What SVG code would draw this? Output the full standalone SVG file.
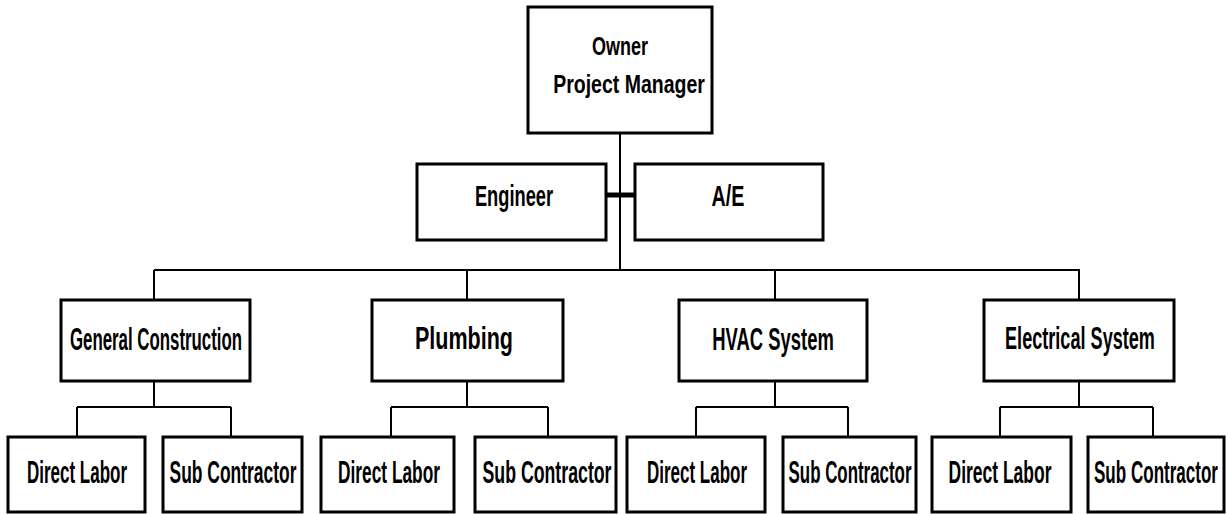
<svg xmlns="http://www.w3.org/2000/svg" width="1226" height="514" viewBox="0 0 1226 514">
<style>
.box{fill:#fff;stroke:#000;stroke-width:3}
.ln{fill:none;stroke:#000;stroke-width:2}
.t{font-family:"Liberation Sans",Arial,sans-serif;font-weight:bold;fill:#000;text-anchor:middle}
.l1{font-size:25px}
.l2{font-size:29px}
.l3{font-size:31px}
</style>
<rect width="1226" height="514" fill="#fff"/>
<g id="connectors">
<path class="ln" d="M620 133V270M154 270H1080M154 270V300M467 270V300M775 270V300M1079 270V300"/>
<path class="ln" d="M154 381V407M77 407H231M77 407V437M231 407V437"/>
<path class="ln" d="M467 381V407M391 407H548M391 407V437M548 407V437"/>
<path class="ln" d="M775 381V407M696 407H848M696 407V437M848 407V437"/>
<path class="ln" d="M1079 381V407M1000 407H1153M1000 407V437M1153 407V437"/>
<path d="M606 195H635" stroke="#000" stroke-width="5"/>
</g>
<g id="owner"><rect class="box" x="528" y="7" width="184" height="126"/>
<text class="t l1" transform="translate(620,55) scale(0.72,1)">Owner</text>
<text class="t l1" transform="translate(629,93) scale(0.78,1)">Project Manager</text></g>
<g id="engineer"><rect class="box" x="417" y="164" width="189" height="76"/>
<text class="t l2" transform="translate(514,206) scale(0.63,1)">Engineer</text></g>
<g id="ae"><rect class="box" x="635" y="164" width="188" height="76"/>
<text class="t l2" transform="translate(728,206) scale(0.68,1)">A/E</text></g>
<g id="general"><rect class="box" x="61" y="300" width="189" height="81"/>
<text class="t l3" transform="translate(156,350) scale(0.543,1)">General Construction</text></g>
<g id="plumbing"><rect class="box" x="372" y="300" width="191" height="81"/>
<text class="t l3" transform="translate(464,349) scale(0.694,1)">Plumbing</text></g>
<g id="hvac"><rect class="box" x="679" y="300" width="188" height="81"/>
<text class="t l3" transform="translate(773,350) scale(0.595,1)">HVAC System</text></g>
<g id="electrical"><rect class="box" x="984" y="300" width="190" height="81"/>
<text class="t l3" transform="translate(1080,349) scale(0.584,1)">Electrical System</text></g>
<g id="gc-dl"><rect class="box" x="8" y="437" width="137" height="75"/>
<text class="t l3" transform="translate(77,483) scale(0.548,1)">Direct Labor</text></g>
<g id="gc-sc"><rect class="box" x="163" y="437" width="139" height="75"/>
<text class="t l3" transform="translate(233,483) scale(0.563,1)">Sub Contractor</text></g>
<g id="pl-dl"><rect class="box" x="321" y="437" width="133" height="75"/>
<text class="t l3" transform="translate(389,483) scale(0.558,1)">Direct Labor</text></g>
<g id="pl-sc"><rect class="box" x="475" y="437" width="141" height="75"/>
<text class="t l3" transform="translate(547,483) scale(0.572,1)">Sub Contractor</text></g>
<g id="hv-dl"><rect class="box" x="627" y="437" width="138" height="75"/>
<text class="t l3" transform="translate(697,483) scale(0.548,1)">Direct Labor</text></g>
<g id="hv-sc"><rect class="box" x="783" y="437" width="133" height="75"/>
<text class="t l3" transform="translate(850,483) scale(0.545,1)">Sub Contractor</text></g>
<g id="el-dl"><rect class="box" x="932" y="437" width="139" height="75"/>
<text class="t l3" transform="translate(1000,483) scale(0.564,1)">Direct Labor</text></g>
<g id="el-sc"><rect class="box" x="1088" y="437" width="136" height="75"/>
<text class="t l3" transform="translate(1156,483) scale(0.55,1)">Sub Contractor</text></g>
</svg>
